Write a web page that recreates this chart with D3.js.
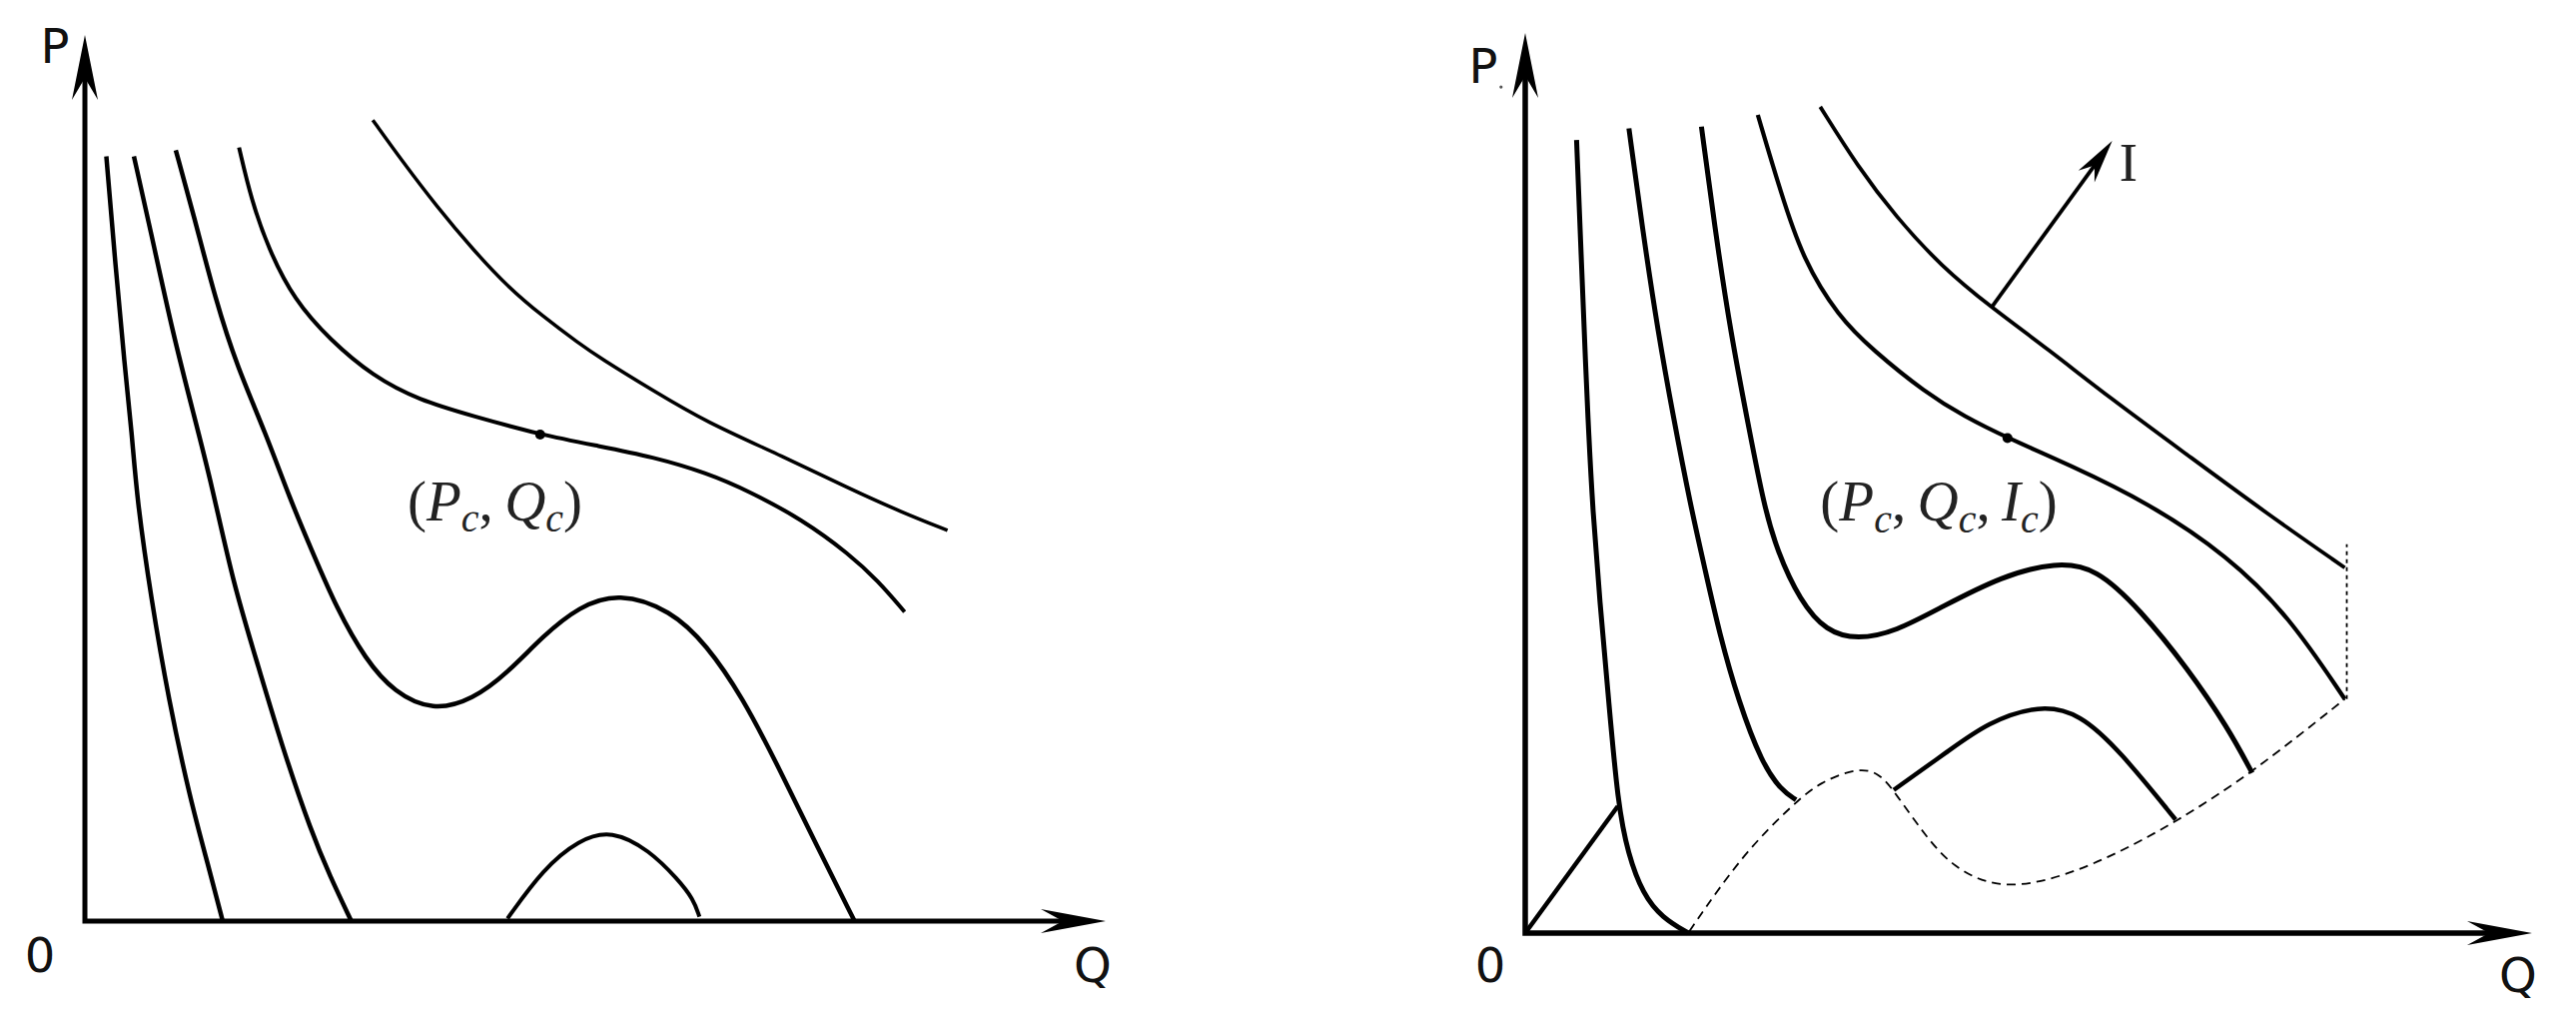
<!DOCTYPE html>
<html>
<head>
<meta charset="utf-8">
<script src="https://cdn.jsdelivr.net/npm/d3@7"></script>
<style>
  html, body { margin: 0; padding: 0; background: #fff; }
  svg { display: block; }
</style>
</head>
<body>
<svg id="chart" width="2579" height="1030"></svg>
<script>
// Curvas do painel esquerdo, em unidades (Q, P)
const leftA = [[0.21,8.63],[0.30,7.39],[0.39,6.26],[0.46,5.51],[0.51,4.76],[0.65,3.63],[0.82,2.50],[1.03,1.38],[1.21,0.62],[1.35,0]];
const leftB = [[0.48,8.63],[0.65,7.76],[0.86,6.64],[1.07,5.70],[1.24,4.94],[1.45,3.82],[1.70,2.87],[1.94,1.94],[2.22,1.00],[2.40,0.51],[2.61,0]];
const leftC = [[0.89,8.70],[1.07,7.95],[1.28,7.01],[1.49,6.26],[1.77,5.51],[2.01,4.76],[2.22,4.19],[2.47,3.52],[2.75,2.95],[3.03,2.58],[3.41,2.37],[3.80,2.50],[4.14,2.80],[4.49,3.22],[4.84,3.55],[5.23,3.71],[5.74,3.51],[6.09,3.12],[6.44,2.53],[6.79,1.75],[7.14,0.92],[7.54,0]];
const leftD = [[1.51,8.73],[1.63,8.14],[1.80,7.58],[2.05,7.01],[2.40,6.56],[2.82,6.15],[3.27,5.88],[3.80,5.70],[4.46,5.49],[5.04,5.36],[5.56,5.24],[6.09,5.06],[6.51,4.85],[7.03,4.53],[7.49,4.14],[7.77,3.84],[8.03,3.49]];
const leftE = [[2.82,9.04],[3.10,8.59],[3.45,8.06],[3.80,7.58],[4.14,7.16],[4.49,6.82],[4.84,6.52],[5.04,6.36],[5.56,5.99],[6.09,5.63],[6.79,5.27],[7.49,4.88],[8.01,4.61],[8.45,4.41]];
const leftBump = [[4.14,0.03],[4.49,0.59],[4.84,0.92],[5.16,1.03],[5.53,0.80],[5.81,0.47],[5.96,0.25],[6.02,0.05]];
const leftCritical = [4.46, 5.49];

// Curvas do painel direito
const rightA = [[0.51,8.81],[0.56,7.41],[0.60,6.30],[0.63,5.56],[0.67,4.71],[0.74,3.69],[0.83,2.57],[0.92,1.44],[1.02,0.88],[1.17,0.43],[1.36,0.17],[1.62,0]];
const rightB = [[1.03,8.94],[1.17,7.78],[1.32,6.67],[1.47,5.74],[1.64,4.76],[1.78,4.07],[1.93,3.32],[2.12,2.57],[2.35,1.89],[2.54,1.59],[2.69,1.48]];
const rightC = [[1.75,8.96],[1.89,7.78],[2.04,6.67],[2.23,5.56],[2.37,4.76],[2.50,4.25],[2.73,3.69],[2.99,3.35],[3.30,3.26],[3.68,3.35],[4.13,3.62],[4.74,3.97],[5.27,4.12],[5.67,4.06],[6.11,3.59],[6.58,2.94],[6.98,2.28],[7.22,1.78]];
const rightD = [[2.31,9.09],[2.54,8.22],[2.76,7.48],[3.11,6.85],[3.45,6.48],[3.98,6.00],[4.36,5.74],[4.79,5.50],[5.39,5.21],[6.19,4.78],[6.98,4.19],[7.58,3.53],[8.14,2.60]];
const rightE = [[2.93,9.18],[3.30,8.52],[3.68,7.96],[4.13,7.41],[4.63,6.95],[5.19,6.49],[5.79,5.96],[6.58,5.31],[7.38,4.65],[8.14,4.06]];
const rightBump = [[3.66,1.59],[4.20,2.02],[4.59,2.34],[5.11,2.54],[5.51,2.44],[5.91,2.02],[6.46,1.26]];
const rightBoundary = [[1.63,0.02],[2.16,0.88],[2.69,1.46],[2.92,1.67],[3.30,1.84],[3.52,1.78],[3.68,1.55],[3.98,1.07],[4.25,0.73],[4.67,0.50],[5.19,0.57],[5.79,0.83],[6.46,1.23],[7.22,1.78],[8.14,2.60]];
const rightEdge = [[8.16,2.60],[8.16,4.32]];
const rightRay = [[0,0],[0.92,1.41]];
const rightIArrow = [[4.63,6.95],[5.83,8.80]];
const rightCritical = [4.79, 5.50];

const leftLabel = [["(",0,0],["P",1,0],["c",1,1],[",\u2009",0,0],["Q",1,0],["c",1,1],[")",0,0]];
const rightLabel = [["(",0,0],["P",1,0],["c",1,1],[",\u2009",0,0],["Q",1,0],["c",1,1],[",\u2009",0,0],["I",1,0],["c",1,1],[")",0,0]];

const svg = d3.select("#chart");
svg.append("rect").attr("width", 2579).attr("height", 1030).attr("fill", "#fff");

// ponta de seta estilo "stealth"
function seta(g, from, to, len, half, notch) {
    const dx = to[0] - from[0], dy = to[1] - from[1];
    const L = Math.hypot(dx, dy), ux = dx / L, uy = dy / L, px = -uy, py = ux;
    const bx = to[0] - ux * len, by = to[1] - uy * len;
    const nx = to[0] - ux * (len - notch), ny = to[1] - uy * (len - notch);
    g.append("path")
        .attr("d", `M${to[0]},${to[1]}L${bx + px * half},${by + py * half}L${nx},${ny}L${bx - px * half},${by - py * half}Z`)
        .attr("fill", "#000");
}

function painel(cfg) {
    const x = d3.scaleLinear().domain([0, 10]).range(cfg.xr);
    const y = d3.scaleLinear().domain([0, 10]).range(cfg.yr);
    const g = svg.append("g");
    const linha = d3.line().x(d => x(d[0])).y(d => y(d[1])).curve(d3.curveBasis);
    const reta = d3.line().x(d => x(d[0])).y(d => y(d[1]));

    // eixos
    g.append("path")
        .attr("d", `M${x(0)},${y(10) + 30}L${x(0)},${y(0)}L${x(10) - 30},${y(0)}`)
        .attr("fill", "none").attr("stroke", "#000").attr("stroke-width", cfg.axisW)
        .attr("stroke-linejoin", "miter");
    seta(g, [x(0), y(0)], [x(0), y(10)], 65, 13, 22);
    seta(g, [x(0), y(0)], [x(10), y(0)], 65, 12, 22);

    cfg.curvas.forEach(c => {
        g.append("path").attr("d", (c.reta ? reta : linha)(c.dados))
            .attr("fill", "none").attr("stroke", "#000")
            .attr("stroke-width", c.w)
            .attr("stroke-dasharray", c.dash || null);
    });

    g.append("circle").attr("cx", x(cfg.ponto[0])).attr("cy", y(cfg.ponto[1]))
        .attr("r", 5).attr("fill", "#000");

    // rótulos dos eixos
    const sans = "DejaVu Sans, sans-serif";
    cfg.rotulos.forEach(r => {
        g.append("text").attr("x", x(r.q) + r.dx).attr("y", y(r.p) + r.dy)
            .attr("text-anchor", "middle").attr("font-family", sans)
            .attr("font-size", 48).attr("fill", "#111").text(r.t);
    });

    // rótulo matemático do ponto crítico
    const S = 57;
    const t = g.append("text").attr("x", x(cfg.lq)).attr("y", y(cfg.lp))
        .attr("font-family", "Liberation Serif, serif").attr("font-size", S).attr("fill", "#222");
    let baixo = false;
    cfg.label.forEach(([txt, it, sub]) => {
        const ts = t.append("tspan").text(txt).attr("font-style", it ? "italic" : "normal");
        if (sub && !baixo) { ts.attr("dy", S * 0.2).attr("font-size", S * 0.7); baixo = true; }
        else if (!sub && baixo) { ts.attr("dy", -S * 0.2); baixo = false; }
        else if (sub) ts.attr("font-size", S * 0.7);
    });
    return { g, x, y };
}

painel({
    xr: [85, 1107], yr: [922, 35], axisW: 5,
    curvas: [
        { dados: leftA, w: 4.5 }, { dados: leftB, w: 4.5 }, { dados: leftC, w: 4.5 },
        { dados: leftD, w: 4 }, { dados: leftE, w: 3.5 }, { dados: leftBump, w: 4 }
    ],
    ponto: leftCritical,
    rotulos: [
        { t: "P", q: 0, p: 10, dx: -30, dy: 28 },
        { t: "0", q: 0, p: 0, dx: -45, dy: 51 },
        { t: "Q", q: 10, p: 0, dx: -13, dy: 61 }
    ],
    label: leftLabel, lq: 3.16, lp: 4.52
});

const dir = painel({
    xr: [1527, 2535], yr: [934, 33], axisW: 5.5,
    curvas: [
        { dados: rightA, w: 5 }, { dados: rightB, w: 5 }, { dados: rightC, w: 5 },
        { dados: rightD, w: 4.2 }, { dados: rightE, w: 3.8 }, { dados: rightBump, w: 4.5 },
        { dados: rightBoundary, w: 1.8, dash: "9,6" },
        { dados: rightEdge, w: 1.8, dash: "4,4", reta: true },
        { dados: rightRay, w: 4.5, reta: true }
    ],
    ponto: rightCritical,
    rotulos: [
        { t: "P", q: 0, p: 10, dx: -42, dy: 50 },
        { t: "0", q: 0, p: 0, dx: -35, dy: 49 },
        { t: "Q", q: 10, p: 0, dx: -14, dy: 59 }
    ],
    label: rightLabel, lq: 2.93, lp: 4.58
});

// seta de I no painel direito
{
    const { g, x, y } = dir;
    const a = [x(rightIArrow[0][0]), y(rightIArrow[0][1])];
    const b = [x(rightIArrow[1][0]), y(rightIArrow[1][1])];
    const L = Math.hypot(b[0] - a[0], b[1] - a[1]);
    const k = (L - 20) / L;
    g.append("line").attr("x1", a[0]).attr("y1", a[1])
        .attr("x2", a[0] + (b[0] - a[0]) * k).attr("y2", a[1] + (b[1] - a[1]) * k)
        .attr("stroke", "#000").attr("stroke-width", 3.8);
    seta(g, a, b, 44, 10, 14);
    g.append("text").attr("x", x(5.90)).attr("y", y(8.36))
        .attr("font-family", "Liberation Serif, serif").attr("font-size", 55).attr("fill", "#222").text("I");
    g.append("circle").attr("cx", x(-0.24)).attr("cy", y(9.4)).attr("r", 1.6).attr("fill", "#555");
}
</script>
</body>
</html>
